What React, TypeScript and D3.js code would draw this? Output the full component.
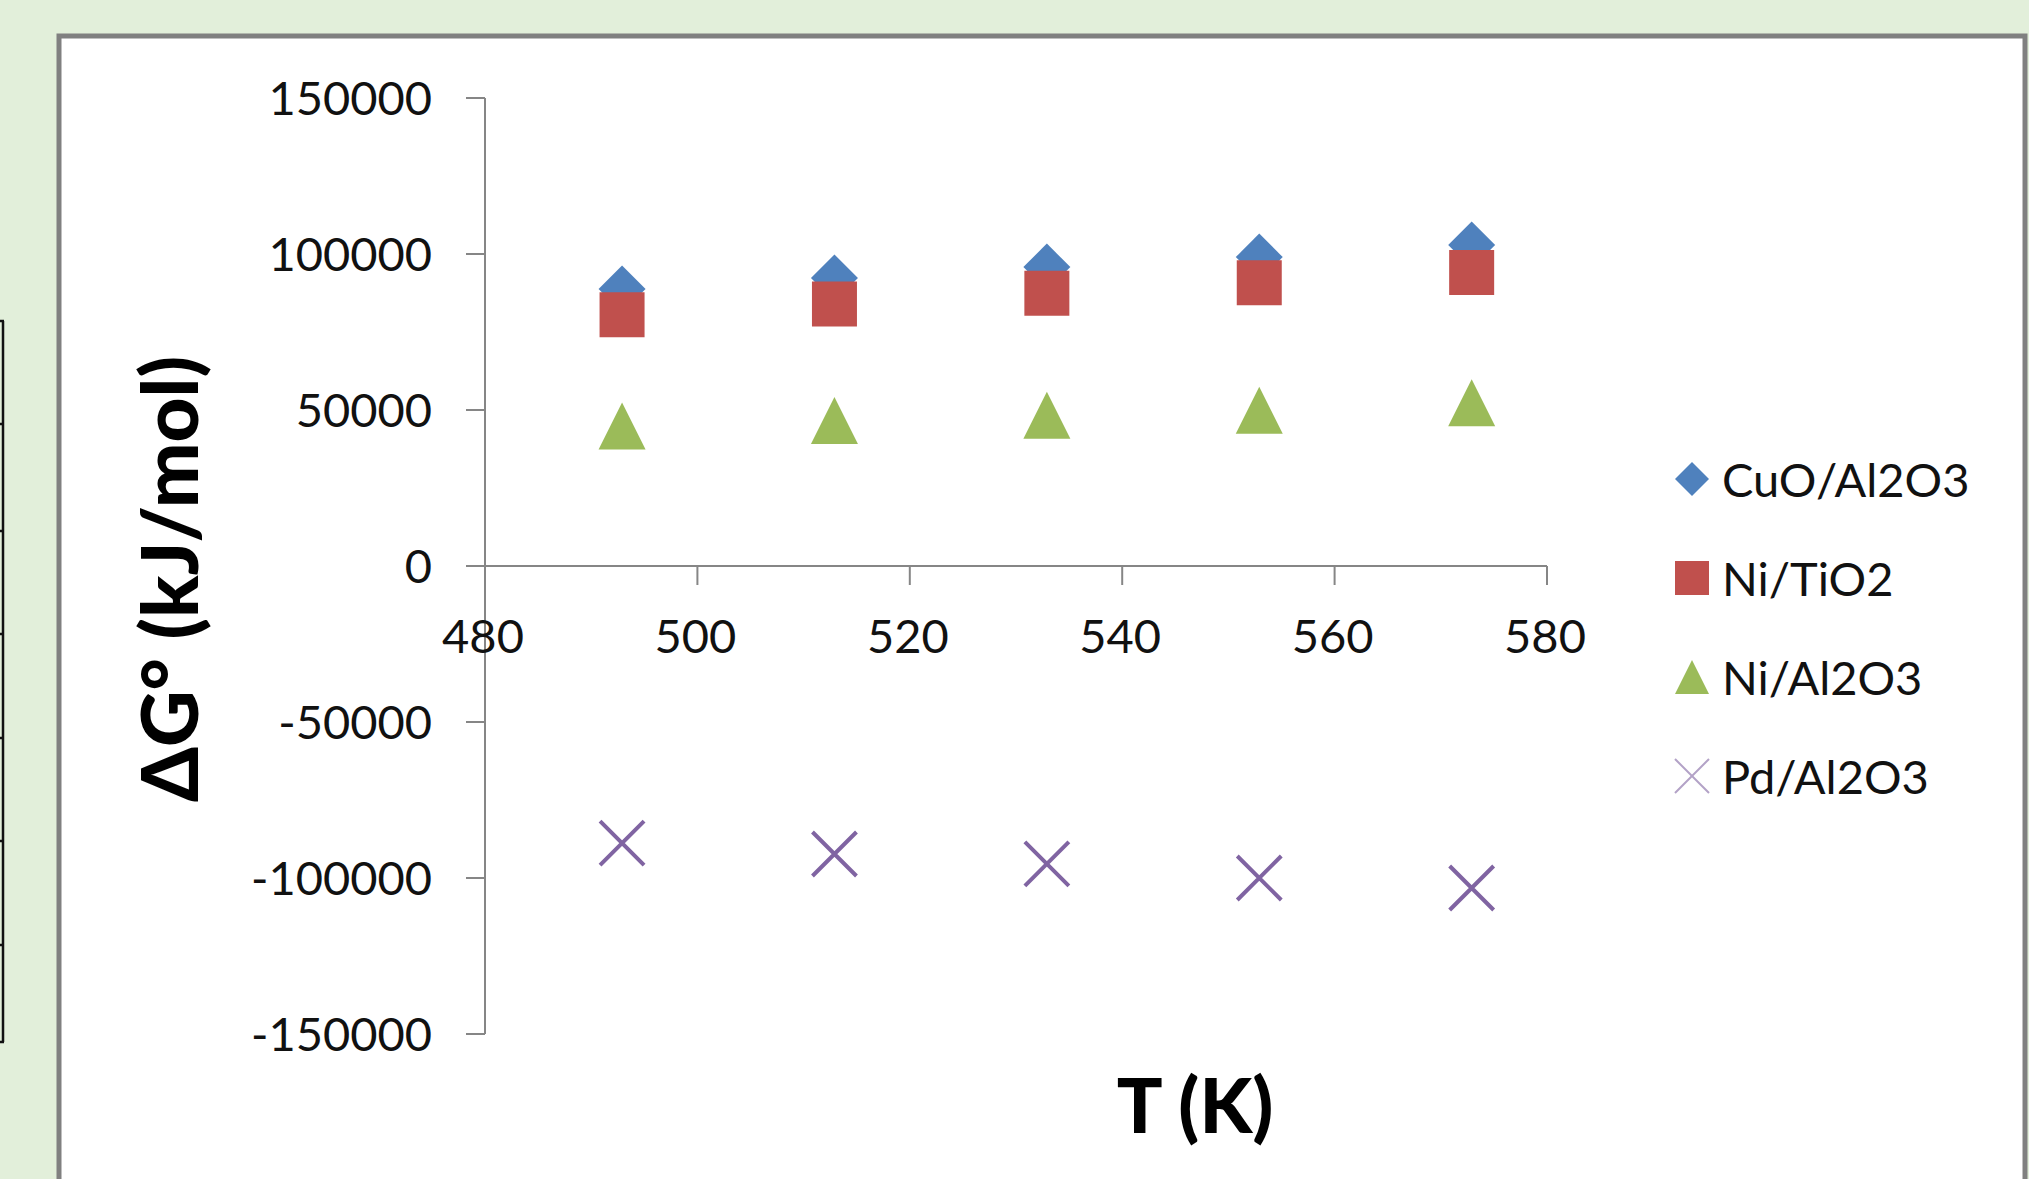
import React from "react";
import * as d3 from "d3";

// Temperatures (K) and standard Gibbs free energy change per catalyst
const temperatures = [493, 513, 533, 553, 573];
const cuoAl2o3 = [88800, 92300, 95800, 99000, 102900];
const niTio2 = [80500, 84000, 87400, 90800, 94100];
const niAl2o3 = [44900, 46600, 48300, 49900, 52300];
const pdAl2o3 = [-88800, -92300, -95500, -100000, -103200];

const seriesNames = ["CuO/Al2O3", "Ni/TiO2", "Ni/Al2O3", "Pd/Al2O3"];
const xTicks = [480, 500, 520, 540, 560, 580];
const yTicks = [150000, 100000, 50000, 0, -50000, -100000, -150000];

const W = 2029;
const H = 1179;
const FONT = "Lato, 'Open Sans', sans-serif";

type Shape = "diamond" | "square" | "triangle" | "cross";

function markerPath(shape: Shape, cx: number, cy: number, s: number): string {
  const h = s / 2;
  const p = d3.path();
  if (shape === "diamond") {
    p.moveTo(cx, cy - h);
    p.lineTo(cx + h, cy);
    p.lineTo(cx, cy + h);
    p.lineTo(cx - h, cy);
    p.closePath();
  } else if (shape === "square") {
    p.rect(cx - h, cy - h, s, s);
  } else if (shape === "triangle") {
    p.moveTo(cx, cy - h);
    p.lineTo(cx + h, cy + h);
    p.lineTo(cx - h, cy + h);
    p.closePath();
  } else {
    p.moveTo(cx - h, cy - h);
    p.lineTo(cx + h, cy + h);
    p.moveTo(cx + h, cy - h);
    p.lineTo(cx - h, cy + h);
  }
  return p.toString();
}

export default function App() {
  const x = d3.scaleLinear().domain([480, 580]).range([485, 1547]);
  const y = d3.scaleLinear().domain([-150000, 150000]).range([1034, 98]);

  const series = [
    { name: seriesNames[0], values: cuoAl2o3, shape: "diamond" as Shape, color: "#4F81BD", size: 47 },
    { name: seriesNames[1], values: niTio2, shape: "square" as Shape, color: "#C0504D", size: 45 },
    { name: seriesNames[2], values: niAl2o3, shape: "triangle" as Shape, color: "#9BBB59", size: 47 },
    { name: seriesNames[3], values: pdAl2o3, shape: "cross" as Shape, color: "#8064A2", size: 44 },
  ];

  const axisColor = "#868686";
  const y0 = y(0);
  const tableRows = [321, 424, 531, 634, 738, 841, 945, 1042];

  return (
    <svg
      width={W}
      height={H}
      style={{ position: "absolute", left: 0, top: 0 }}
      xmlns="http://www.w3.org/2000/svg"
    >
      <rect x={0} y={0} width={W} height={H} fill="#E2EFDA" />

      {/* edge of a neighbouring table */}
      <line x1={3} y1={tableRows[0]} x2={3} y2={tableRows[tableRows.length - 1]} stroke="#111" strokeWidth={2.5} />
      {tableRows.map((r) => (
        <line key={r} x1={0} y1={r} x2={4} y2={r} stroke="#111" strokeWidth={2.5} />
      ))}

      {/* chart area */}
      <rect x={59} y={36} width={1966} height={H} fill="#FFFFFF" stroke="#808080" strokeWidth={5} />

      {/* y axis */}
      <line x1={x(480)} y1={y(150000)} x2={x(480)} y2={y(-150000)} stroke={axisColor} strokeWidth={2} />
      {yTicks.map((t) => (
        <g key={t}>
          <line x1={x(480) - 19} y1={y(t)} x2={x(480)} y2={y(t)} stroke={axisColor} strokeWidth={2} />
          <text
            x={432}
            y={y(t) + 17}
            textAnchor="end"
            fontFamily={FONT}
            fontSize={47}
            fill="#111"
          >
            {t}
          </text>
        </g>
      ))}

      {/* x axis at zero */}
      <line x1={x(480) - 19} y1={y0} x2={x(580)} y2={y0} stroke={axisColor} strokeWidth={2} />
      {xTicks.map((t) => (
        <g key={t}>
          <line x1={x(t)} y1={y0} x2={x(t)} y2={y0 + 19} stroke={axisColor} strokeWidth={2} />
          <text x={x(t) - 2} y={653} textAnchor="middle" fontFamily={FONT} fontSize={47} fill="#111">
            {t}
          </text>
        </g>
      ))}

      {/* markers */}
      {series.map((s) =>
        s.values.map((v, i) => (
          <path
            key={s.name + i}
            d={markerPath(s.shape, x(temperatures[i]) - 1, y(v), s.size)}
            fill={s.shape === "cross" ? "none" : s.color}
            stroke={s.color}
            strokeWidth={s.shape === "cross" ? 4 : 0}
          />
        ))
      )}

      {/* axis titles */}
      <text
        transform={`translate(198,579) rotate(-90)`}
        textAnchor="middle"
        fontFamily={FONT}
        fontWeight="900"
        fontSize={78}
        fill="#000"
      >
        ΔG° (kJ/mol)
      </text>
      <text x={1195} y={1133} textAnchor="middle" fontFamily={FONT} fontWeight="900" fontSize={76} fill="#000">
        T (K)
      </text>

      {/* legend */}
      {series.map((s, i) => {
        const cy = 479 + i * 99;
        return (
          <g key={s.name}>
            <path
              d={markerPath(s.shape, 1692, cy, 34)}
              fill={s.shape === "cross" ? "none" : s.color}
              stroke={s.shape === "cross" ? "#B3A2C7" : s.color}
              strokeWidth={s.shape === "cross" ? 2 : 0}
            />
            <text x={1722} y={cy + 18} fontFamily={FONT} fontSize={47} fill="#111">
              {s.name}
            </text>
          </g>
        );
      })}
    </svg>
  );
}
